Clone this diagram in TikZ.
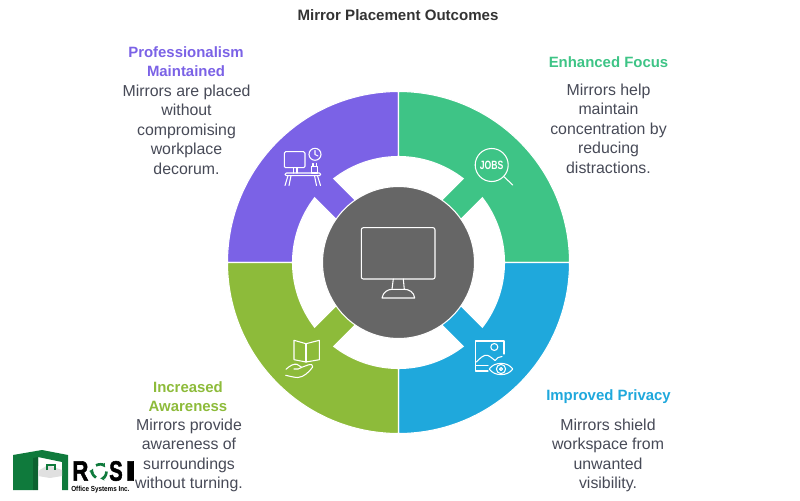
\documentclass[tikz,border=0pt]{standalone}
\usepackage{fontspec}
\setmainfont{Liberation Sans}
\newfontfamily\logofont[BoldFeatures={FakeBold=2}]{Liberation Sans}
\usetikzlibrary{arrows.meta,calc,positioning}
\definecolor{purpleq}{HTML}{7B62E6}
\definecolor{greenq}{HTML}{3EC486}
\definecolor{blueq}{HTML}{1FA8DC}
\definecolor{limeq}{HTML}{8DBB3A}
\definecolor{coreq}{HTML}{666666}
\definecolor{bodyq}{HTML}{474A57}
\definecolor{logog}{HTML}{0F7A3C}
\tikzset{
  headtxt/.style={align=center,inner sep=0pt,font=\fontsize{11.2}{14.6}\selectfont\bfseries},
  bodytxt/.style={align=center,inner sep=0pt,text=bodyq,font=\fontsize{11.9}{14.6}\selectfont},
  iconline/.style={draw=white,line width=0.8pt,line join=round,line cap=round},
  logotxt/.style={inner sep=0pt,anchor=west,font=\fontsize{21}{22}\selectfont\logofont\bfseries},
}
\begin{document}
\begin{tikzpicture}[x=0.75pt,y=-0.75pt]
  \useasboundingbox (0,0) rectangle (800,500);
  \node[inner sep=0pt,text=black!80,font=\fontsize{11.3}{12}\selectfont\bfseries] (title) at (398,15) {Mirror Placement Outcomes};

  % quadrants with their arms
  \begin{scope}[shift={(398.5,262.5)}]
    \foreach \ang/\col in {180/purpleq,270/greenq,0/blueq,90/limeq}{
      \fill[\col,draw=white,line width=0.8pt]
        (\ang:171) arc[start angle=\ang,delta angle=90,radius=171]
        -- ({\ang+90}:106) arc[start angle=\ang+90,end angle=\ang+52.3,radius=106]
        -- ({\ang+56.1}:70) -- ({\ang+33.9}:70)
        -- ({\ang+37.7}:106) arc[start angle=\ang+37.7,end angle=\ang,radius=106]
        -- cycle;
    }
    \node[circle,fill=coreq,draw=white,line width=0.8pt,minimum size=114pt,inner sep=0pt] (core) at (0,0) {};
  \end{scope}

  % monitor
  \draw[iconline,rounded corners=1.5pt] (361.3,227.7) rectangle (435,279);
  \draw[iconline] (393.3,279) -- (392,289.3) (403.3,279) -- (404.3,289.3);
  \draw[iconline] (382,298) .. controls (383,292) and (388,289.3) .. (392,289.3) -- (404.3,289.3)
    .. controls (409,289.3) and (414,292) .. (414.7,298) -- cycle;

  % desk
  \draw[iconline,rounded corners=1pt] (284.3,151.7) rectangle (305,167.7);
  \draw[iconline] (293.5,167.7) -- (293.5,173) (297,167.7) -- (297,173);
  \draw[iconline,rounded corners=1pt] (285,173) rectangle (320.7,175.7);
  \draw[iconline] (288,175.7) -- (285,185.5) (291,175.7) -- (289,185.5);
  \draw[iconline] (317.5,175.7) -- (320.5,185.5) (314.5,175.7) -- (316.5,185.5);
  \draw[iconline] (315,154.3) circle[radius=6];
  \draw[iconline] (315,150.5) -- (315,154.5) -- (318,156);
  \draw[iconline] (311.7,166.7) rectangle (317.7,173);
  \draw[iconline] (313,166.7) -- (313,163.5) (316.5,166.7) -- (316.5,163.5);

  % jobs
  \draw[iconline] (491.7,165) circle[radius=16.5];
  \draw[iconline] (504,176.7) -- (512.7,185);
  \node[inner sep=0pt,text=white,font=\fontsize{9}{10}\selectfont\bfseries] (jobs) at (491.7,165) {\scalebox{0.72}[1]{JOBS}};

  % photo and eye
  \draw[iconline] (504,354) -- (504,341) -- (475.7,341) -- (475.7,371) -- (488,371);
  \draw[iconline] (475.7,365.3) -- (488,365.3);
  \draw[iconline] (494.3,347) circle[radius=3.5];
  \draw[iconline] (476.5,362) .. controls (480,358) and (484,354.5) .. (487.3,355.3)
    .. controls (490,356) and (493,359) .. (495,360.5) .. controls (497,358) and (499,356.5) .. (502,356.5);
  \draw[iconline] (489.3,369) .. controls (494,361.5) and (508,361.5) .. (512.7,369)
    .. controls (508,376.5) and (494,376.5) .. (489.3,369) -- cycle;
  \draw[iconline] (501,369) circle[radius=4.6];
  \draw[iconline] (501,369) circle[radius=1.5];

  % book and hand
  \draw[iconline] (306,343.7) -- (294,340.3) -- (294,359.7) -- (306,362) -- (319.3,359.7) -- (319.3,340.3) -- cycle;
  \draw[iconline] (306,343.7) -- (306,362);
  \draw[iconline] (286,369.3) .. controls (290,365.5) and (294,363.5) .. (297,364.3)
    .. controls (299,365) and (300,366.5) .. (301.7,367.3) -- (308,365)
    .. controls (311,364) and (313.5,364.5) .. (312.7,367)
    .. controls (309,372) and (304,377) .. (298,377.5) .. controls (294,377.5) and (289,376) .. (285.7,375.3);
  \draw[iconline] (301.7,367.3) .. controls (300,369) and (297,369.5) .. (294,369);

  % texts
  \node[headtxt,text=purpleq] (profhead) at (186,61.5) {Professionalism\\Maintained};
  \node[bodytxt,anchor=north] (profbody) at (186.5,84.5) {Mirrors are placed\\without\\compromising\\workplace\\decorum.};
  \node[headtxt,text=greenq] (focushead) at (608.5,62) {Enhanced Focus};
  \node[bodytxt,anchor=north] (focusbody) at (608.5,83.5) {Mirrors help\\maintain\\concentration by\\reducing\\distractions.};
  \node[headtxt,text=blueq] (privhead) at (608.5,397) {Improved Privacy};
  \node[bodytxt,anchor=north] (privbody) at (608,418.5) {Mirrors shield\\workspace from\\unwanted\\visibility.};
  \node[headtxt,text=limeq] (awarehead) at (188,396.5) {Increased\\Awareness};
  \node[bodytxt,anchor=north] (awarebody) at (189,418.5) {Mirrors provide\\awareness of\\surroundings\\without turning.};

  % logo
  \fill[logog] (13,455) -- (42,450) -- (68,455) -- (68,490) -- (62,490) -- (62,462) -- (38,457) -- (38,466) -- (33,466) -- (33,490) -- (13,490) -- cycle;
  \fill[logog!80!black] (33,458) -- (38,457) -- (38,490) -- (33,490) -- cycle;
  \fill[black!12] (38,471) -- (48,465) -- (62,470) -- (62,476) -- (50,478) -- (38,476) -- cycle;
  \draw[logog,line width=1pt] (47,470) -- (47,465) -- (55,465) -- (55,470);
  \node[logotxt] (logor) at (72,471) {\scalebox{0.8}[1]{R}};
  \foreach \ang in {0,120,240}{
    \draw[logog,line width=2pt,-{Latex[length=3pt,width=4pt]}] (99.5,471.5) ++(\ang:7) arc[start angle=\ang,delta angle=85,radius=7];
  }
  \node[logotxt] (logos) at (109,471) {\scalebox{0.72}[1]{S}};
  \node[logotxt] (logoi) at (125,471) {\scalebox{1.4}[1]{I}};
  \node[inner sep=0pt,anchor=west,font=\fontsize{5.5}{6}\selectfont\bfseries] (logosub) at (71,489.5) {\scalebox{0.86}[1]{Office Systems Inc.}};
\end{tikzpicture}
\end{document}
